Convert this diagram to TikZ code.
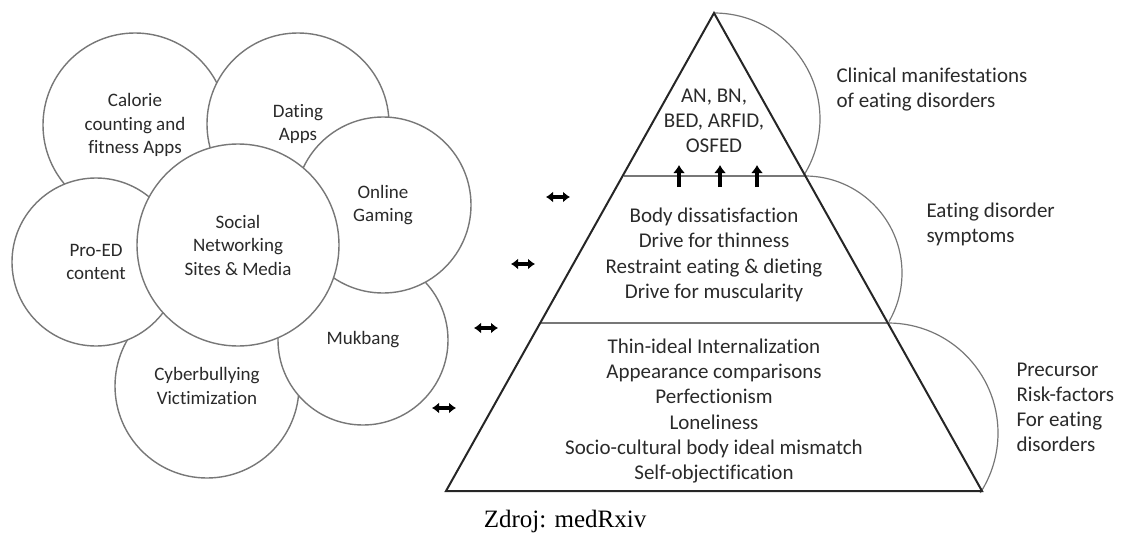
\documentclass[tikz,border=0pt]{standalone}
\usepackage{fontspec}
\setmainfont{Carlito}[Ligatures={NoCommon}]
\newfontfamily\capfont{Liberation Serif}
\usetikzlibrary{arrows.meta}
\definecolor{txt}{HTML}{2A2A2A}
\definecolor{circ}{HTML}{777777}
\definecolor{pyr}{HTML}{262626}
\tikzset{
  bubble/.style={circle, draw=circ, line width=1.4pt, fill=white, inner sep=0pt, align=center, text=txt, font=\fontsize{19}{23.5}\selectfont},
  ptext/.style={align=center, text=txt, font=\fontsize{21}{25.3}\selectfont},
  rlabel/.style={align=left, anchor=west, text=txt, font=\fontsize{21}{25}\selectfont},
  divider/.style={draw=circ, line width=1.5pt},
  sidearc/.style={draw=circ, line width=1.2pt},
  dblarrow/.style={line width=4pt, black, {Latex[length=7pt,width=11pt]}-{Latex[length=7pt,width=11pt]}},
  uparrow/.style={line width=4.6pt, black, -{Latex[length=8pt,width=12pt]}},
}
\begin{document}
\begin{tikzpicture}[x=1pt,y=1pt]
\useasboundingbox (0,0) rectangle (1124,-535);
% circles, bottom to top
\node[bubble, minimum size=184pt] (cal) at (135,-125) {Calorie\\counting and\\fitness Apps};
\node[bubble, minimum size=182pt] (dat) at (298,-124) {Dating\\Apps};
\node[bubble, minimum size=184pt] (cyb) at (207,-386) {Cyberbullying\\Victimization};
\node[bubble, minimum size=170pt] (muk) at (363,-340) {Mukbang};
\node[bubble, minimum size=176pt] (onl) at (383,-205) {Online\\Gaming};
\node[bubble, minimum size=168pt] (pro) at (96,-262) {Pro-ED\\content};
\node[bubble, minimum size=202pt] (soc) at (238,-245) {Social\\Networking\\Sites \& Media};
% pyramid
\coordinate (apex) at (714,-13);
\coordinate (bl) at (446,-491);
\coordinate (br) at (982,-491);
\coordinate (ul) at (624,-176);
\coordinate (ur) at (805,-176);
\coordinate (ll) at (540,-323);
\coordinate (lr) at (888,-323);
\draw[sidearc] (apex) arc[start angle=90, end angle=-32, radius=106];
\draw[sidearc] (ur) arc[start angle=90, end angle=-30, radius=97];
\draw[sidearc] (lr) arc[start angle=90, end angle=-33, radius=110];
\draw[divider] (ul) -- (ur);
\draw[divider] (ll) -- (lr);
\draw[draw=pyr, line width=2pt, line join=miter] (apex) -- (bl) -- (br) -- cycle;
% pyramid texts
\node[ptext] (top) at (714,-121) {AN, BN,\\BED, ARFID,\\OSFED};
\node[ptext] (mid) at (714,-255) {Body dissatisfaction\\Drive for thinness\\Restraint eating \& dieting\\Drive for muscularity};
\node[ptext] (bot) at (714,-411) {Thin-ideal Internalization\\Appearance comparisons\\Perfectionism\\Loneliness\\Socio-cultural body ideal mismatch\\Self-objectification};
% up arrows
\foreach \n/\x in {u1/679, u2/720, u3/757} {
  \coordinate (\n s) at (\x,-187);
  \coordinate (\n e) at (\x,-165);
  \draw[uparrow] (\n s) -- (\n e);
}
% side labels
\node[rlabel] (l1) at (833,-90) {Clinical manifestations\\of eating disorders};
\node[rlabel] (l2) at (923,-224) {Eating disorder\\symptoms};
\node[rlabel] (l3) at (1013,-407) {Precursor\\Risk-factors\\For eating\\disorders};
% double arrows
\foreach \n/\x/\y in {d1/558/197, d2/523/264, d3/486/328, d4/444/408} {
  \coordinate (\n a) at ({\x-12},-\y);
  \coordinate (\n b) at ({\x+12},-\y);
  \draw[dblarrow] (\n a) -- (\n b);
}
% caption
\node[font=\capfont\fontsize{25}{28}\selectfont, text=black] (cap) at (565,-521) {Zdroj: medRxiv};
\end{tikzpicture}
\end{document}
